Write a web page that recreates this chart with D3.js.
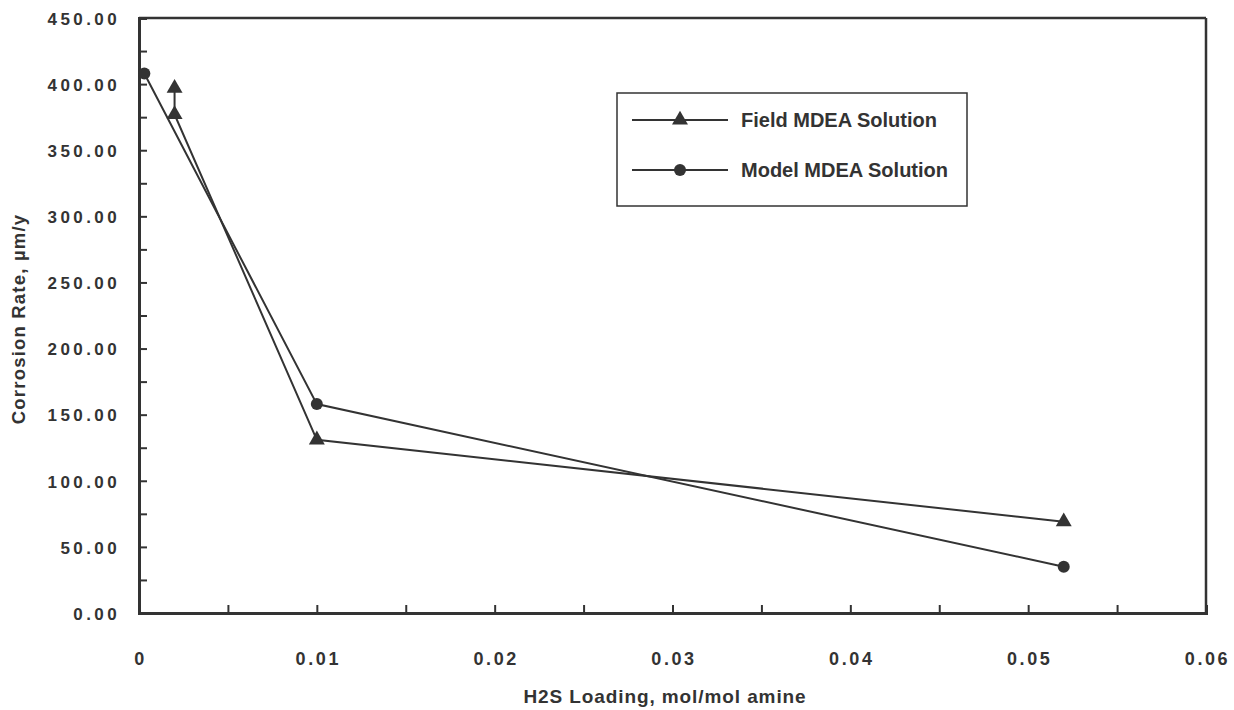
<!DOCTYPE html>
<html><head><meta charset="utf-8">
<script src="https://cdn.jsdelivr.net/npm/d3@7"></script>
<style>
body{margin:0;background:#fff;}
text{font-family:"Liberation Sans",Arial,sans-serif;font-weight:bold;fill:#333;}
</style></head>
<body><svg id="c" width="1234" height="710"></svg>
<script>
// Data
const fieldX = [0.002, 0.002, 0.01, 0.052];
const fieldY = [397, 377, 131, 69];
const modelX = [0.0003, 0.01, 0.052];
const modelY = [408, 158, 35];
const xTickLabels = ["0", "0.01", "0.02", "0.03", "0.04", "0.05", "0.06"];
const yTickLabels = ["0.00","50.00","100.00","150.00","200.00","250.00","300.00","350.00","400.00","450.00"];
const seriesNames = ["Field MDEA Solution", "Model MDEA Solution"];

const svg = d3.select("#c");
const ink = "#333";
const x = d3.scaleLinear().domain([0, 0.06]).range([139, 1206]);
const y = d3.scaleLinear().domain([0, 450]).range([613, 18]);

// frame top/right
svg.append("line").attr("x1", x(0)).attr("x2", x(0.06)).attr("y1", y(450)).attr("y2", y(450))
  .attr("stroke", ink).attr("stroke-width", 2.5);
svg.append("line").attr("x1", x(0.06)).attr("x2", x(0.06)).attr("y1", y(450)).attr("y2", y(0))
  .attr("stroke", ink).attr("stroke-width", 2.5);

// y axis
const yAxis = d3.axisRight(y).tickValues(d3.range(0, 451, 25)).tickSize(8).tickFormat("");
const gy = svg.append("g").attr("transform", `translate(${x(0)},0)`).call(yAxis);
gy.select(".domain").attr("stroke", ink).attr("stroke-width", 3);
gy.selectAll(".tick line").attr("stroke", ink).attr("stroke-width", 2);
yTickLabels.forEach((t, i) => {
  svg.append("text").attr("x", 120).attr("y", y(i * 50)).attr("dy", "0.4em")
    .attr("text-anchor", "end").style("font-size", "17px").style("letter-spacing", "3.4px").text(t);
});

// x axis
const xAxis = d3.axisTop(x).tickValues(d3.range(0, 0.0601, 0.005)).tickSize(8).tickFormat("");
const gx = svg.append("g").attr("transform", `translate(0,${y(0)})`).call(xAxis);
gx.select(".domain").attr("stroke", ink).attr("stroke-width", 3);
gx.selectAll(".tick line").attr("stroke", ink).attr("stroke-width", 2);
xTickLabels.forEach((t, i) => {
  svg.append("text").attr("x", x(i * 0.01) + 1.5).attr("y", 665)
    .attr("text-anchor", "middle").style("font-size", "18px").style("letter-spacing", "2.6px").text(t);
});

// titles
svg.append("text").attr("x", 665).attr("y", 703).attr("text-anchor", "middle")
  .style("font-size", "19px").style("letter-spacing", "0.9px").text("H2S Loading, mol/mol amine");
svg.append("text").attr("transform", "translate(25,319) rotate(-90)").attr("text-anchor", "middle")
  .style("font-size", "18.5px").style("letter-spacing", "1.2px").text("Corrosion Rate, µm/y");

// series
const line = d3.line().x(d => x(d[0])).y(d => y(d[1]));
const field = fieldX.map((v, i) => [v, fieldY[i]]);
const model = modelX.map((v, i) => [v, modelY[i]]);
svg.append("path").datum(field).attr("d", line).attr("fill", "none").attr("stroke", ink).attr("stroke-width", 2);
svg.append("path").datum(model).attr("d", line).attr("fill", "none").attr("stroke", ink).attr("stroke-width", 2);
const tri = d3.symbol().type(d3.symbolTriangle).size(110);
svg.selectAll(".tri").data(field).enter().append("path")
  .attr("transform", d => `translate(${x(d[0])},${y(d[1])})`).attr("d", tri).attr("fill", ink);
svg.selectAll(".circ").data(model).enter().append("circle")
  .attr("cx", d => x(d[0])).attr("cy", d => y(d[1])).attr("r", 6).attr("fill", ink);

// legend
svg.append("rect").attr("x", 617).attr("y", 93).attr("width", 350).attr("height", 113)
  .attr("fill", "none").attr("stroke", ink).attr("stroke-width", 1.5);
[120, 170].forEach((ly, i) => {
  svg.append("line").attr("x1", 632).attr("x2", 728).attr("y1", ly).attr("y2", ly)
    .attr("stroke", ink).attr("stroke-width", 2);
  if (i === 0) svg.append("path").attr("transform", `translate(680,${ly})`).attr("d", tri).attr("fill", ink);
  else svg.append("circle").attr("cx", 680).attr("cy", ly).attr("r", 6).attr("fill", ink);
  svg.append("text").attr("x", 741).attr("y", ly).attr("dy", "0.36em")
    .style("font-size", "20px").text(seriesNames[i]);
});
</script></body></html>
